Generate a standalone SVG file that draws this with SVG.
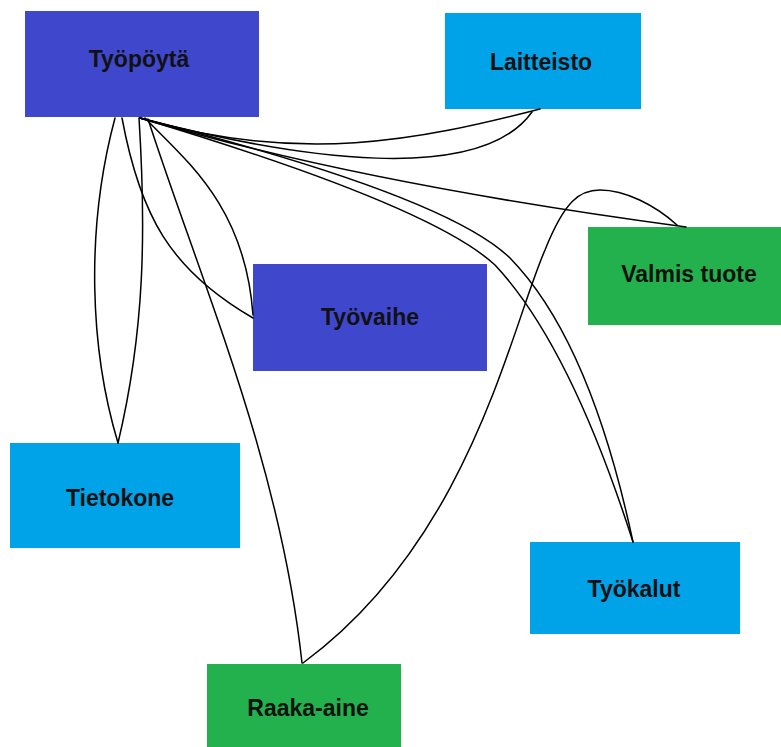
<svg xmlns="http://www.w3.org/2000/svg" width="781" height="747" viewBox="0 0 781 747">
  <style>
    .box-indigo { fill: #3f48cc; }
    .box-cyan { fill: #00a2e8; }
    .box-green { fill: #22b14c; }
    .label { font-family: "Liberation Sans", Arial, sans-serif; font-weight: bold; font-size: 23px; fill: #111; text-anchor: middle; }
    .link { fill: none; stroke: #000; stroke-width: 1.5; stroke-linecap: round; }
  </style>
  <rect width="781" height="747" fill="#fff"/>

  <!-- nodes -->
  <g id="node-tyopoyta">
    <rect class="box-indigo" x="25" y="11" width="234" height="106"/>
    <text class="label" x="139" y="67">Työpöytä</text>
  </g>
  <g id="node-laitteisto">
    <rect class="box-cyan" x="445" y="13" width="196" height="96"/>
    <text class="label" x="541" y="70">Laitteisto</text>
  </g>
  <g id="node-valmis-tuote">
    <rect class="box-green" x="588" y="227" width="193" height="98"/>
    <text class="label" x="689" y="282">Valmis tuote</text>
  </g>
  <g id="node-tyovaihe">
    <rect class="box-indigo" x="253" y="264" width="234" height="107"/>
    <text class="label" x="370" y="325">Työvaihe</text>
  </g>
  <g id="node-tietokone">
    <rect class="box-cyan" x="10" y="443" width="230" height="105"/>
    <text class="label" x="120" y="506">Tietokone</text>
  </g>
  <g id="node-tyokalut">
    <rect class="box-cyan" x="530" y="542" width="210" height="92"/>
    <text class="label" x="634" y="597">Työkalut</text>
  </g>
  <g id="node-raaka-aine">
    <rect class="box-green" x="207" y="664" width="194" height="83"/>
    <text class="label" x="308" y="716">Raaka-aine</text>
  </g>

  <!-- connectors -->
  <g id="connectors">
    <!-- Työpöytä – Tietokone (two arcs) -->
    <path class="link" d="M115,118 C85,230 90,350 118,443"/>
    <path class="link" d="M139,118 C146,230 145,330 118,443"/>
    <!-- Työpöytä – Työvaihe (two arcs) -->
    <path class="link" d="M122,118 C140,215 170,270 253,318"/>
    <path class="link" d="M145,118 C185,160 245,205 253,315"/>
    <!-- Työpöytä – Raaka-aine -->
    <path class="link" d="M148,119 C200,280 280,460 302,663"/>
    <!-- Työpöytä – Laitteisto (two arcs) -->
    <path class="link" d="M140,118 C300,165 420,140 540,109"/>
    <path class="link" d="M140,118 C300,160 480,185 532,112"/>
    <!-- Työpöytä – Valmis tuote -->
    <path class="link" d="M140,118 Q357,183 686,227"/>
    <!-- Työpöytä – Työkalut (two arcs) -->
    <path class="link" d="M140,118 Q445,195 510,258 Q590,340 633,542"/>
    <path class="link" d="M140,118 Q430,205 495,265 Q570,345 633,542"/>
    <!-- Raaka-aine – Valmis tuote -->
    <path class="link" d="M303,663 C470,540 510,330 545,250 C565,200 580,190 600,190 C625,190 655,205 677,225"/>
  </g>
</svg>
